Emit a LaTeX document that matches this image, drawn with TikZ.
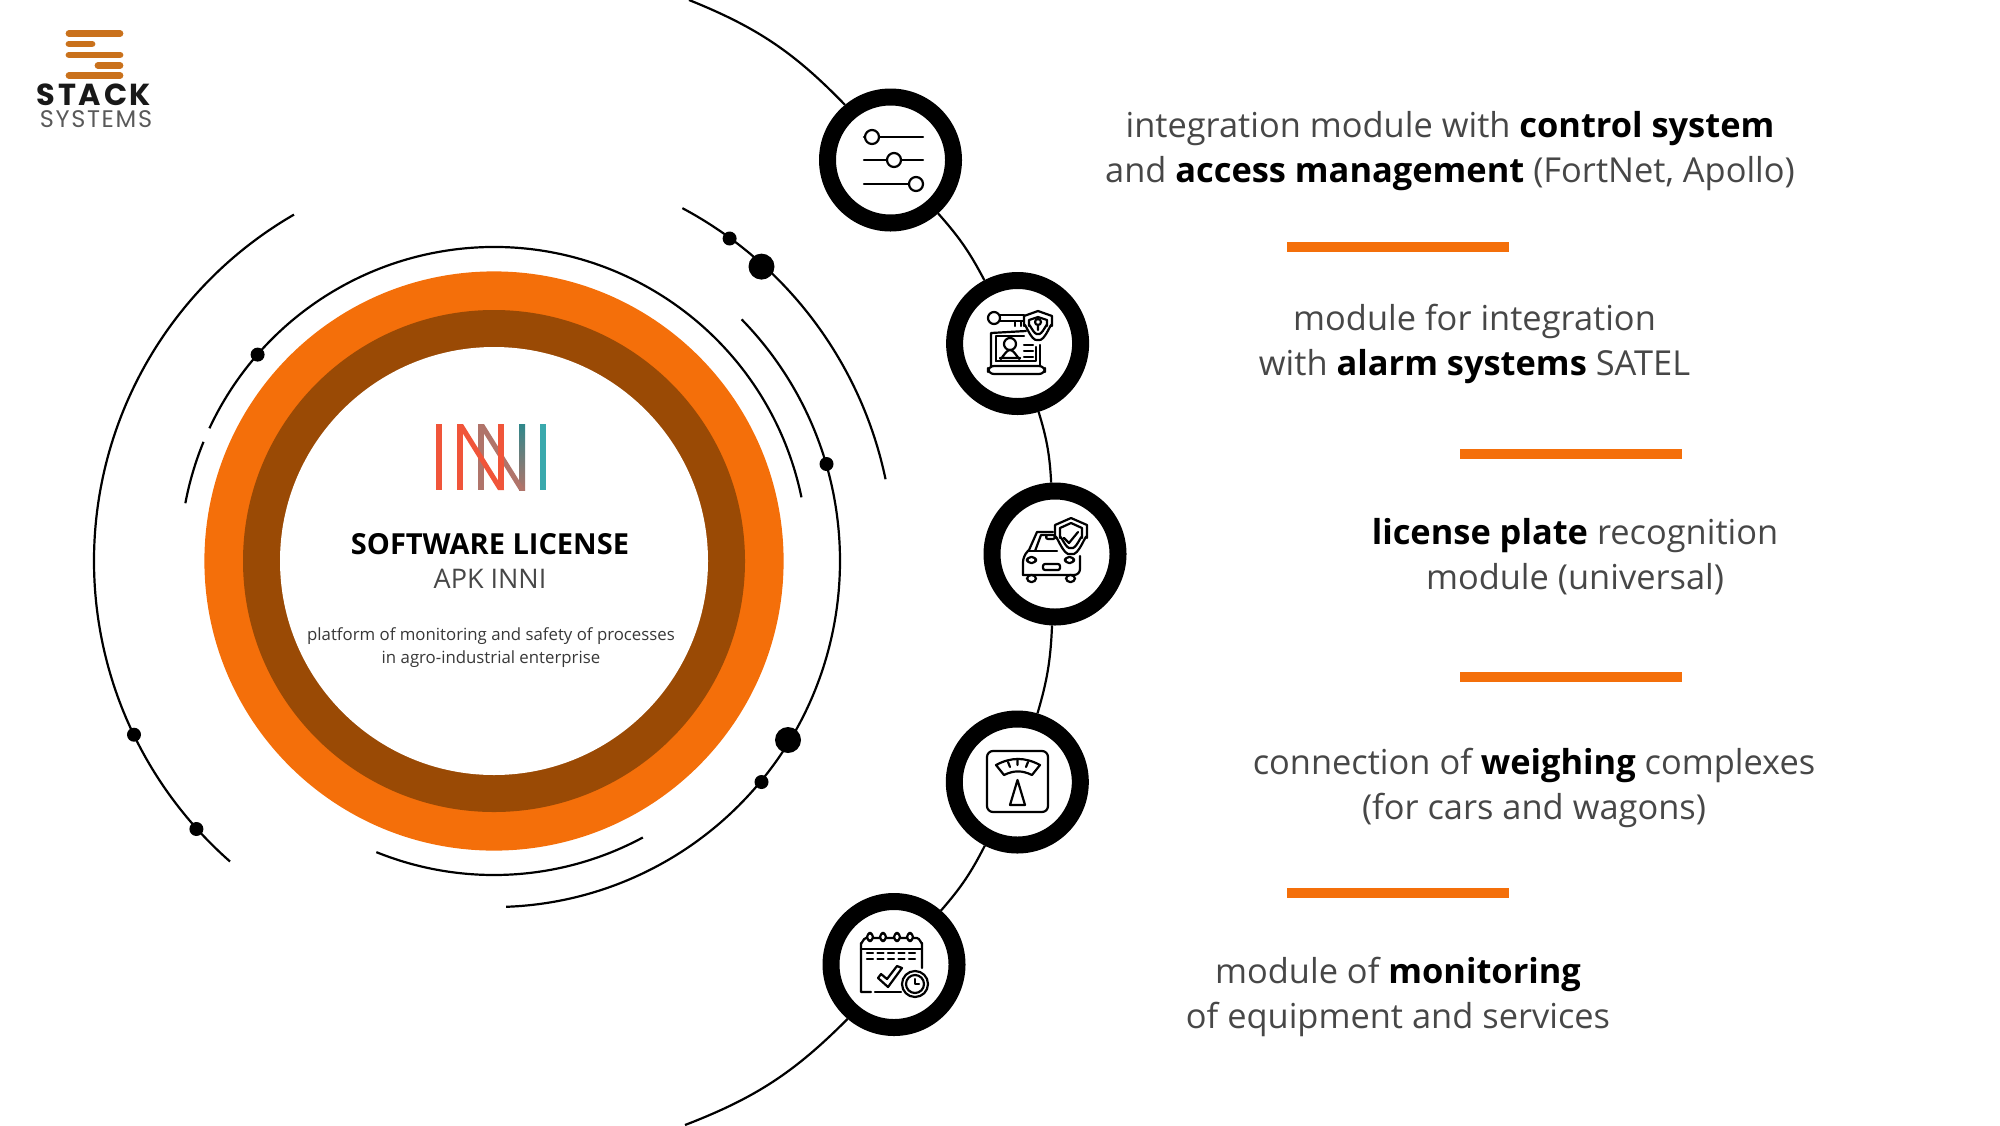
\documentclass[tikz,border=0pt]{standalone}
\usepackage{fontspec}
\setmainfont{Open Sans}
\newfontfamily\logofont{Poppins}
\definecolor{ringorange}{HTML}{F46F0A}
\definecolor{ringbrown}{HTML}{9A4A05}
\definecolor{logobar}{HTML}{C9711C}
\definecolor{inired}{HTML}{F0553A}
\definecolor{inimuted}{HTML}{B0746A}
\definecolor{initeal}{HTML}{3AA9AD}
\newcommand{\hi}[1]{{\color{black}\textbf{#1}}}
\tikzset{
  badge/.style={circle,draw=black,fill=white,line width=8.5pt,minimum size=63pt,inner sep=0pt},
  dotsmall/.style={circle,fill=black,minimum size=7pt,inner sep=0pt},
  dotbig/.style={circle,fill=black,minimum size=13pt,inner sep=0pt},
  caption/.style={align=center,text=black!72,font=\fontsize{17.2}{22.5}\selectfont,inner sep=0pt},
  sepbar/.style={fill=ringorange,minimum width=111pt,minimum height=5pt,inner sep=0pt},
  orbit/.style={line width=1.1pt},
  icon/.style={line width=1.1pt,line cap=round,line join=round},
  logorule/.style={line width=3.4pt,line cap=round,draw=logobar}
}
\begin{document}
\begin{tikzpicture}[x=0.5pt,y=-0.5pt]
  \useasboundingbox (0,0) rectangle (2000,1125);
  \coordinate (ctr) at (494,561);
  % Anillos centrales
  \node[circle,fill=ringorange,minimum size=289.6pt,inner sep=0pt] (ringa) at (ctr) {};
  \node[circle,fill=ringbrown,minimum size=251pt,inner sep=0pt] (ringb) at (ctr) {};
  \node[circle,fill=white,minimum size=214pt,inner sep=0pt] (ringc) at (ctr) {};
  % Arcos
  \draw[orbit] (ctr) ++(-11.7:314) arc (-11.7:-155:314);
  \draw[orbit] (ctr) ++(-157.7:314) arc (-157.7:-169.4:314);
  \draw[orbit] (ctr) ++(112:314) arc (112:61.7:314);
  \draw[orbit] (ctr) ++(-44.3:346) arc (-44.3:88:346);
  \draw[orbit] (ctr) ++(-61.9:400) arc (-61.9:-11.8:400);
  \draw[orbit] (ctr) ++(-120:400) arc (-120:-228.7:400);
  % Puntos
  \node[dotsmall] (da) at (729.6,238.5) {};
  \node[dotbig] (db) at (761.5,266.6) {};
  \node[dotsmall] (dc) at (826.5,464) {};
  \node[dotbig] (dd) at (788,740) {};
  \node[dotsmall] (de) at (761.5,782) {};
  \node[dotsmall] (df) at (257.6,354.6) {};
  \node[dotsmall] (dg) at (134,734.7) {};
  \node[dotsmall] (dh) at (196.4,829) {};
  % Nodos modulos
  \coordinate (top) at (689,0);
  \coordinate (bot) at (685,1125);
  \node[badge] (m1) at (890.5,160) {};
  \node[badge] (m2) at (1017.6,343.5) {};
  \node[badge] (m3) at (1055,554) {};
  \node[badge] (m4) at (1017.3,782) {};
  \node[badge] (m5) at (894,964.5) {};
  % Curva exterior
  \draw[orbit] (top) to[bend left=12] (m1);
  \draw[orbit] (m1) to[bend left=7] (m2);
  \draw[orbit] (m2) to[bend left=7] (m3);
  \draw[orbit] (m3) to[bend left=7] (m4);
  \draw[orbit] (m4) to[bend left=7] (m5);
  \draw[orbit] (m5) to[bend left=12] (bot);
  % Icono reguladores
  \draw[icon] (864,137) -- (923,137);
  \draw[icon] (864,160) -- (923,160);
  \draw[icon] (864,184) -- (923,184);
  \draw[icon,fill=white] (872,137) circle (7);
  \draw[icon,fill=white] (894,160) circle (7);
  \draw[icon,fill=white] (916,184) circle (7);
  % Icono portatil
  \draw[icon] (994,318) circle (6);
  \draw[icon] (1000,315) -- (1024,315);
  \draw[icon] (1000,321) -- (1024,321) (1015,321) -- (1015,326) (1021,321) -- (1021,326);
  \draw[icon] (991,366) -- (991,333) -- (1026,331);
  \draw[icon] (1040,345) -- (1040,366);
  \draw[icon] (996,361) -- (996,336) -- (1024,336);
  \draw[icon] (996,361) -- (1036,361) -- (1036,347);
  \draw[icon,rounded corners=3] (988,366) rectangle (1045,374);
  \draw[icon] (1010,344) circle (6);
  \draw[icon] (1000,358) to[out=-90,in=180] (1010,350) to[out=0,in=-90] (1020,358) -- cycle;
  \draw[icon] (1024,345) -- (1033,345) (1024,351) -- (1033,351) (1024,357) -- (1033,357);
  \draw[icon,fill=white] (1038,311) -- (1052,316) -- (1052,326) to[out=90,in=-20] (1038,340) to[out=200,in=90] (1024,326) -- (1024,316) -- cycle;
  \draw[icon] (1038,317) -- (1047,320) -- (1047,326) to[out=90,in=-20] (1038,334) to[out=200,in=90] (1029,326) -- (1029,320) -- cycle;
  \draw[icon] (1038,322) circle (3) (1038,325) -- (1038,330);
  % Icono coche
  \draw[icon] (1029,550) -- (1037,532) -- (1053,532);
  \draw[icon] (1035,551) -- (1041,535) -- (1047,535);
  \draw[icon,rounded corners=1] (1046,535) rectangle (1055,539);
  \draw[icon] (1029,551) -- (1057,551);
  \draw[icon,rounded corners=3] (1023,575) -- (1023,556) -- (1029,550);
  \draw[icon,rounded corners=3] (1023,575) -- (1080,575) -- (1080,556);
  \draw[icon,rounded corners=2] (1027,557) rectangle (1036,563);
  \draw[icon,rounded corners=2] (1065,557) rectangle (1074,563);
  \draw[icon,rounded corners=1] (1043,564) rectangle (1060,570);
  \draw[icon,rounded corners=2] (1027,575) rectangle (1036,582);
  \draw[icon,rounded corners=2] (1066,575) rectangle (1075,582);
  \draw[icon,fill=white] (1071,518) -- (1087,525) -- (1087,538) to[out=90,in=-25] (1071,554) to[out=205,in=90] (1055,538) -- (1055,525) -- cycle;
  \draw[icon] (1071,523) -- (1082,528) -- (1082,538) to[out=90,in=-25] (1071,548) to[out=205,in=90] (1060,538) -- (1060,528) -- cycle;
  \draw[icon] (1064,538) -- (1069,543) -- (1078,532);
  % Icono bascula
  \draw[icon,rounded corners=3] (987,751) rectangle (1048,812);
  \draw[icon] (996,765) to[bend left=28] (1040,765) -- (1032,775) to[bend right=26] (1004,775) -- cycle;
  \draw[icon] (1008,762) -- (1010,767) (1017.5,759) -- (1017.5,765) (1028,762) -- (1026,767);
  \draw[icon] (1017.5,780) -- (1010,805) -- (1025,805) -- cycle;
  % Icono calendario
  \draw[icon] (861,949) -- (922,949);
  \draw[icon] (922,968) -- (922,943) to[out=-90,in=0] (917,938) -- (866,938) to[out=180,in=-90] (861,943) -- (861,992) -- (871,992);
  \draw[icon] (875,992) -- (901,992);
  \foreach \x in {870,883,897,910}
    \draw[icon,fill=white,rounded corners=2] (\x-3,933) rectangle (\x+3,941);
  \foreach \x in {867,877.5,888,898.5,909}
    \draw[icon] (\x,953) -- (\x+6,953) (\x,959) -- (\x+6,959);
  \draw[icon] (878,978) -- (888,987) -- (902,968) -- (897,966) -- (887,979) -- (881,974) -- cycle;
  \draw[icon,fill=white] (915,984) circle (13);
  \draw[icon] (915,984) circle (9);
  \draw[icon] (915,979) -- (915,984) -- (919,984);
  % Textos
  \node[caption] (t1) at (1450,151) {integration module with \hi{control system}\\and \hi{access management} (FortNet, Apollo)};
  \node[caption] (t2) at (1474.5,344) {module for integration\\with \hi{alarm systems} SATEL};
  \node[caption] (t3) at (1575,557) {\hi{license plate} recognition\\module (universal)};
  \node[caption] (t4) at (1534,788) {connection of \hi{weighing} complexes\\(for cars and wagons)};
  \node[caption] (t5) at (1398,997) {module of \hi{monitoring}\\of equipment and services};
  % Barras
  \node[sepbar] (s1) at (1398,247) {};
  \node[sepbar] (s2) at (1571,454) {};
  \node[sepbar] (s3) at (1571,677) {};
  \node[sepbar] (s4) at (1398,893) {};
  % Centro
  \node[inner sep=0pt,font=\bfseries\fontsize{14.5}{16}\selectfont] (lic) at (490,544) {SOFTWARE LICENSE};
  \node[inner sep=0pt,text=black!72,font=\fontsize{13.5}{16}\selectfont] (apk) at (490,579) {APK INNI};
  \node[align=center,inner sep=0pt,text=black!78,font=\fontsize{8.4}{11.5}\selectfont] (plat) at (491,648) {platform of monitoring and safety of processes\\in agro-industrial enterprise};
  % Logo INNI
  \fill[inimuted] (478,424) rectangle (484,490);
  \shade[top color=initeal!80!black,bottom color=inimuted] (519,424) rectangle (525,490);
  \fill[inimuted] (478,424) -- (484,424) -- (525,490) -- (519,490) -- cycle;
  \fill[inired] (436,424) rectangle (442,490);
  \fill[inired] (457,424) rectangle (463,490);
  \fill[inired] (498,424) rectangle (504,490);
  \fill[inired] (457,424) -- (463,424) -- (504,490) -- (498,490) -- cycle;
  \fill[initeal] (540,424) rectangle (546,490);
  % Logo Stack
  \draw[logorule] (69,33.5) -- (120,33.5);
  \draw[logorule] (69,44) -- (92,44);
  \draw[logorule] (69,55) -- (120,55);
  \draw[logorule] (98,65.5) -- (120,65.5);
  \draw[logorule] (69,75.5) -- (120,75.5);
  \node[inner sep=0pt,text=black!90,font=\logofont\bfseries\fontsize{15.2}{15}\selectfont] (stack) at (94,95) {\addfontfeature{LetterSpace=9}STACK};
  \node[inner sep=0pt,text=black!65,font=\logofont\fontsize{12}{12}\selectfont] (sys) at (96,119.5) {\addfontfeature{LetterSpace=7}SYSTEMS};
\end{tikzpicture}
\end{document}
